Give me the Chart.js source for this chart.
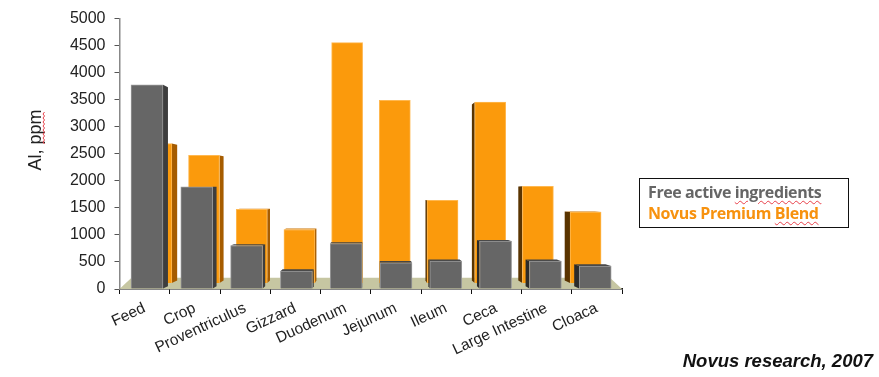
<!DOCTYPE html>
<html>
<head>
<meta charset="utf-8">
<script src="https://cdn.jsdelivr.net/npm/chart.js@4"></script>
<style>
    html, body { margin: 0; padding: 0; background: #fff; }
    #wrap { position: relative; width: 879px; height: 377px; overflow: hidden; }
    #legendBox {
        position: absolute; left: 639px; top: 178px; width: 208px; height: 48px;
        border: 1px solid #111; box-sizing: content-box;
        font: bold 16px/20.5px "Open Sans", sans-serif; letter-spacing: -0.4px;
    }
    #legendBox div { position: absolute; left: 8px; white-space: nowrap; }
    .spell { text-decoration: underline wavy #e8404a 1px; text-underline-offset: 2px; }
    #source {
        position: absolute; right: 6px; top: 350px;
        font: italic bold 18.5px "Liberation Sans", Arial, sans-serif; color: #111;
    }
</style>
</head>
<body>
<div id="wrap">
    <canvas id="chart" width="879" height="377"></canvas>
    <div id="legendBox">
        <div style="top:3px;color:#666"><span>Free active </span><span class="spell">ingredients</span></div>
        <div style="top:24px;color:#F7920F"><span>Novus Premium </span><span class="spell">Blend</span></div>
    </div>
    <div id="source">Novus research, 2007</div>
</div>
<script>
// values
const categories = ["Feed", "Crop", "Proventriculus", "Gizzard", "Duodenum", "Jejunum", "Ileum", "Ceca", "Large Intestine", "Cloaca"];
const freeActive = [3775, 1890, 805, 330, 840, 485, 515, 885, 515, 425];
const novusBlend = [2690, 2470, 1472, 1100, 4555, 3490, 1640, 3455, 1898, 1422];
const yTicks = [0, 500, 1000, 1500, 2000, 2500, 3000, 3500, 4000, 4500, 5000];
const yTitle = "Al, ppm";

//..fake perspective: point the bar depth runs towards
const vanish = { x: 370, y: 190 };
const depth = [0.024, 0.027];
const faces = [
    { side: "#3d3d3d", sideLeft: "#2b2b2b", top: "#454545" },
    { side: "#A65C00", sideLeft: "#5a3400", top: "#C97200" }
];

function back(x, y, k) {
    return [x + (vanish.x - x) * k, y + (vanish.y - y) * k];
}

function poly(ctx, pts, color) {
    ctx.fillStyle = color;
    ctx.beginPath();
    pts.forEach((p, i) => i ? ctx.lineTo(p[0], p[1]) : ctx.moveTo(p[0], p[1]));
    ctx.closePath();
    ctx.fill();
}

const box3d = {
    id: "box3d",
    //..khaki floor under the bars
    beforeDatasetsDraw(chart) {
        const { ctx, chartArea: a, scales: { y } } = chart;
        const back_y = y.getPixelForValue(210);
        poly(ctx, [[a.left, a.bottom], [a.left + 12, back_y], [a.right - 12, back_y], [a.right, a.bottom]], "#C6C6A2");
    },
    //..side and top faces go behind the front face of each dataset
    beforeDatasetDraw(chart, args) {
        const { ctx } = chart;
        const k = depth[args.index];
        const face = faces[args.index];
        chart.getDatasetMeta(args.index).data.forEach(bar => {
            const p = bar.getProps(["x", "y", "base", "width"], true);
            const l = p.x - p.width / 2, r = p.x + p.width / 2;
            if (r < vanish.x) {
                poly(ctx, [[r, p.y], back(r, p.y, k), back(r, p.base, k), [r, p.base]], face.side);
            }
            if (l > vanish.x) {
                poly(ctx, [[l, p.y], back(l, p.y, k), back(l, p.base, k), [l, p.base]], face.sideLeft);
            }
            if (p.y > vanish.y) {
                poly(ctx, [[l, p.y], back(l, p.y, k), back(r, p.y, k), [r, p.y]], face.top);
            }
        });
    },
    //..axis title sits above the middle of the axis, with a spell check squiggle below "ppm"
    afterDraw(chart) {
        const { ctx } = chart;
        ctx.save();
        ctx.translate(36, 140);
        ctx.rotate(-Math.PI / 2);
        ctx.font = "18px 'Liberation Sans', Arial, sans-serif";
        ctx.fillStyle = "#222";
        ctx.textAlign = "center";
        ctx.textBaseline = "middle";
        ctx.fillText(yTitle, 0, 0);
        ctx.restore();
        ctx.save();
        ctx.strokeStyle = "#e8404a";
        ctx.lineWidth = 1;
        ctx.beginPath();
        for (let py = 112, n = 0; py <= 144; py += 2, n++) {
            const px = n % 2 ? 43 : 44.5;
            n ? ctx.lineTo(px, py) : ctx.moveTo(px, py);
        }
        ctx.stroke();
        ctx.restore();
    }
};

new Chart(document.getElementById("chart"), {
    type: "bar",
    plugins: [box3d],
    data: {
        labels: categories,
        datasets: [
            {
                label: "Free active ingredients",
                data: freeActive.map((v, i) => ({ x: i, y: v })),
                xAxisID: "xFront",
                order: 1,
                grouped: false,
                barThickness: 32,
                backgroundColor: "#666666",
                borderColor: "#9a9a9a",
                borderWidth: 1
            },
            {
                label: "Novus Premium Blend",
                data: novusBlend.map((v, i) => ({ x: i, y: v })),
                xAxisID: "xBack",
                order: 2,
                grouped: false,
                base: 110,
                barThickness: 31,
                backgroundColor: "#FB9A0C",
                borderColor: "#FFB850",
                borderWidth: 1
            }
        ]
    },
    options: {
        responsive: false,
        animation: false,
        layout: { padding: { left: 22, top: 18, right: 257, bottom: 0 } },
        plugins: { legend: { display: false }, tooltip: { enabled: false } },
        scales: {
            //..visible category axis
            x: {
                type: "category",
                offset: true,
                afterFit: s => { s.height = 88; },
                border: { color: "#111", width: 1.5 },
                grid: { offset: true, drawOnChartArea: false, color: "#111", tickLength: 5 },
                ticks: {
                    autoSkip: false, minRotation: 25, maxRotation: 25, padding: 5,
                    color: "#222",
                    font: { family: "'Liberation Sans', Arial, sans-serif", size: 15.5 }
                }
            },
            //..front and back rows sit on slightly different spacing
            xFront: { type: "linear", display: false, offset: false, min: -0.552, max: 9.538 },
            xBack: { type: "linear", display: false, offset: false, min: -0.772, max: 9.763 },
            y: {
                min: 0,
                max: 5000,
                afterFit: s => { s.width = 97.5; },
                afterBuildTicks: s => { s.ticks = yTicks.map(v => ({ value: v })); },
                border: { color: "#888", width: 1.5 },
                grid: { drawOnChartArea: false, color: "#555", tickLength: 5 },
                ticks: {
                    padding: 9, color: "#222",
                    callback: v => String(v),
                    font: { family: "'Liberation Sans', Arial, sans-serif", size: 16 }
                }
            }
        }
    }
});
</script>
</body>
</html>
